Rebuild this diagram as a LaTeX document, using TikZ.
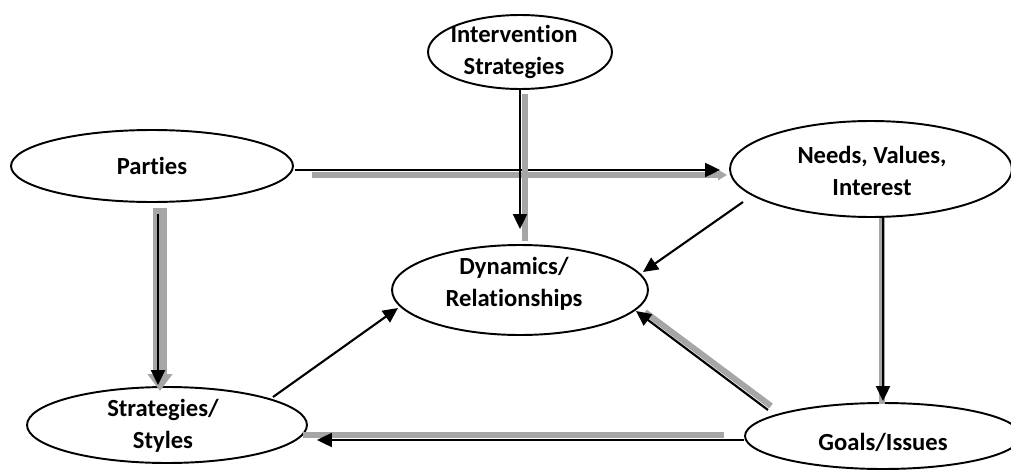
\documentclass[tikz,border=0pt]{standalone}
\usepackage{fontspec}
\setmainfont{Carlito}[Ligatures=CommonOff]
\usetikzlibrary{arrows.meta,shapes.geometric}
\definecolor{shade}{HTML}{A6A6A6}

\begin{document}
\begin{tikzpicture}[x=0.02cm,y=-0.02cm,
	oval/.style={ellipse,draw=black,line width=1.1pt,inner sep=0pt,fill=white},
	txt/.style={align=center,inner sep=0pt,font=\fontsize{14}{18}\selectfont\bfseries},
	link/.style={draw=black,line width=1.2pt,-{Triangle[length=0.3cm,width=0.28cm]}},
	back/.style={draw=shade,line width=0.12cm}]
	\useasboundingbox (0,0) rectangle (1011,470);
	\node [oval,minimum width=3.68cm,minimum height=1.48cm] (intv) at (520,52) {};
	\node [oval,minimum width=5.64cm,minimum height=1.44cm] (parties) at (152,166) {};
	\node [oval,minimum width=5.64cm,minimum height=1.92cm] (needs) at (871,169) {};
	\node [oval,minimum width=5.12cm,minimum height=1.80cm] (dyn) at (520,290) {};
	\node [oval,minimum width=5.60cm,minimum height=1.52cm] (strat) at (167,425) {};
	\node [oval,minimum width=5.52cm,minimum height=1.32cm] (goals) at (883,436) {};
	\node [txt] (intv-t) at ([shift={(-6,0)}]intv.center) {Intervention\\Strategies};
	\node [txt] (parties-t) at (parties) {Parties};
	\node [txt] (needs-t) at ([shift={(1,2)}]needs.center) {Needs, Values,\\Interest};
	\node [txt] (dyn-t) at ([shift={(-6,-6)}]dyn.center) {Dynamics/\\Relationships};
	\node [txt] (strat-t) at ([shift={(-4,1)}]strat.center) {Strategies/\\Styles};
	\node [txt] (goals-t) at ([shift={(0,6)}]goals.center) {Goals/Issues};
	\draw [back,-{Triangle[length=0.18cm,width=0.2cm]}] ([shift={(18,9)}]parties.east) -- ([shift={(-2,6)}]needs.west);
	\draw [link] ([shift={(1,4)}]parties.east) -- ([shift={(-9,1)}]needs.west);
	\draw [back] ([shift={(5,4)}]intv.south) -- ([shift={(5,-3)}]dyn.north);
	\draw [link] (intv.south) -- ([shift={(0,-15)}]dyn.north);
	\draw [draw=shade,line width=0.28cm,-{Triangle[length=0.34cm,width=0.48cm]}] ([shift={(8,5)}]parties.south) -- ([shift={(-7,5)}]strat.north);
	\draw [link] ([shift={(6,11)}]parties.south) -- ([shift={(-9,-1)}]strat.north);
	\draw [back] ([shift={(11,0)}]needs.south) -- ([shift={(-1,2)}]goals.north);
	\draw [link] ([shift={(12,0)}]needs.south) -- ([shift={(0,-1)}]goals.north);
	\draw [back] ([shift={(-20,-1)}]goals.west) -- ([shift={(-5,10)}]strat.east);
	\draw [link] ([shift={(0,4)}]goals.west) -- ([shift={(9,15)}]strat.east);
	\draw [back] ([shift={(-112,-30)}]goals.center) -- ([shift={(125,22)}]dyn.center);
	\draw [link] ([shift={(-115,-26)}]goals.center) -- ([shift={(116,21)}]dyn.center);
	\draw [link] ([shift={(-128,33)}]needs.center) -- ([shift={(123,-18)}]dyn.center);
	\draw [link] ([shift={(106,-28)}]strat.center) -- ([shift={(-122,18)}]dyn.center);
\end{tikzpicture}
\end{document}
